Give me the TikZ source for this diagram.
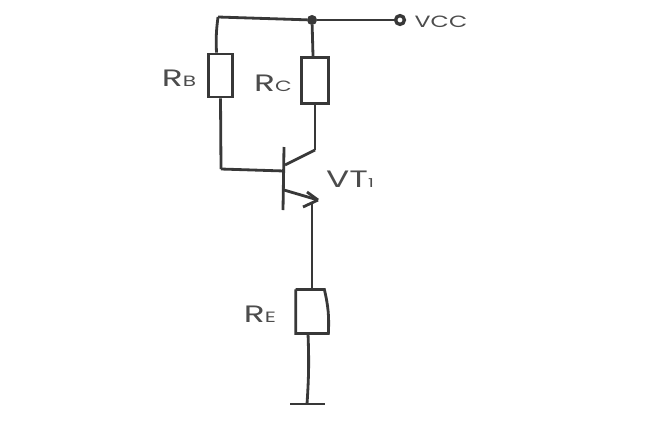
\documentclass[tikz,border=0pt]{standalone}
\usepackage{fontspec}
\setmainfont[FakeStretch=1.45]{Poppins}
\begin{document}
\begin{tikzpicture}[x=0.02cm, y=-0.02cm, line width=1.6pt, color={black!78},
  res/.style = {draw,rectangle,inner sep=0pt},
  term/.style = {draw,circle,fill=white,inner sep=0pt,minimum size=5pt,line width=1.9pt},
  dot/.style = {draw,circle,fill,inner sep=0pt,minimum size=4pt},
  tag/.style = {inner sep=0pt,font=\fontsize{13.5}{13.5}\selectfont,text=black!70}]
  \useasboundingbox (0,0) rectangle (651,420);
  % nodes
  \node[res, minimum width=13.5pt, minimum height=24.5pt] (rb) at (220.5, 75.5) {};
  \node[res, minimum width=15pt, minimum height=26.5pt] (rc) at (315, 80.5) {};
  \node[minimum width=17pt, minimum height=23.5pt, inner sep=0pt] (re) at (312, 311.5) {};
  \node[dot] (junc) at (312, 20) {};
  \node[term] (vcc) at (400, 20) {};
  \coordinate (corner) at (218, 17);
  \coordinate (bend) at (221, 169);
  \coordinate (barup) at (284, 147);
  \coordinate (bardn) at (283, 210);
  \coordinate (base) at (284, 171);
  \coordinate (coll) at (285, 165);
  \coordinate (ctop) at (315, 150);
  \coordinate (emit) at (284, 190);
  \coordinate (tip) at (318, 200);
  \coordinate (tipa) at (307, 192);
  \coordinate (tipb) at (303, 207);
  \coordinate (ewire) at (312, 203);
  \coordinate (gnd) at (307, 404);
  \coordinate (gndl) at (290, 404);
  \coordinate (gndr) at (325, 404);
  % wires
  \draw (rb.north) ++(-4,0) coordinate (rbt) to [bend left=5] (corner);
  \draw (corner) to (junc);
  \draw (junc) to (vcc);
  \draw (junc) to ([xshift=-2*0.02cm]rc.north);
  \draw (rb.south) to (bend);
  \draw (bend) to (base);
  \draw (barup) to (bardn);
  \draw (coll) to (ctop);
  \draw (ctop) to (rc.south);
  \draw (emit) to (tip);
  \draw (tipa) to (tip);
  \draw (tip) to (tipb);
  \draw (ewire) to (re.north);
  \draw (re.north west) to ([xshift=-4*0.02cm]re.north east) to [bend left=8] (re.south east) to (re.south west) to (re.north west);
  \draw (re.south) ++(-4,0) coordinate (reb) to [bend left=3] (gnd);
  \draw (gndl) to (gndr);
  % labels
  \node[tag] (lrb) at (179, 78) {R\fontsize{8.5}{8.5}\selectfont B};
  \node[tag] (lrc) at (273, 83) {R\fontsize{8.5}{8.5}\selectfont C};
  \node[tag] (lre) at (260, 314) {R\fontsize{8.5}{8.5}\selectfont E};
  \node[tag, font=\fontsize{9.3}{9.3}\selectfont] (lvcc) at (441, 22) {VCC};
  \node[tag] (lvt) at (350, 179) {VT\fontsize{7}{7}\selectfont 1};
\end{tikzpicture}
\end{document}
